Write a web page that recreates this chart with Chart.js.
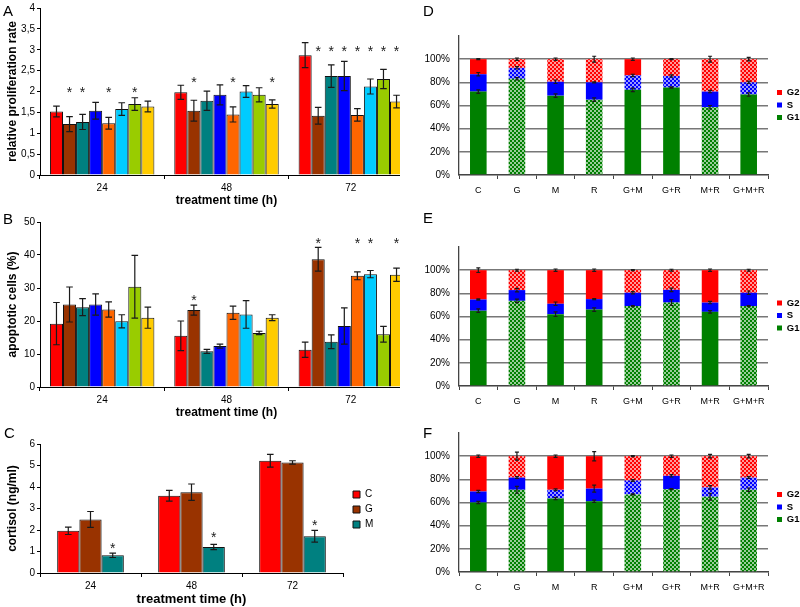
<!DOCTYPE html>
<html>
<head>
<meta charset="utf-8">
<script src="https://cdn.jsdelivr.net/npm/chart.js@4.4.0/dist/chart.umd.min.js"></script>
<style>
body { margin: 0; width: 800px; height: 607px; overflow: hidden; position: relative; background: #fff; font-family: "Liberation Sans", Arial, sans-serif; }
.panel { position: absolute; overflow: hidden; }
.letter { position: absolute; font-size: 15px; line-height: 15px; color: #000; }
</style>
</head>
<body>
<div class="panel" style="left:0;top:0;width:400px;height:210px"><canvas id="chartA" width="420" height="210" style="width:420px;height:210px"></canvas></div>
<div class="panel" style="left:0;top:210px;width:400px;height:210px"><canvas id="chartB" width="420" height="210" style="width:420px;height:210px"></canvas></div>
<div class="panel" style="left:0;top:420px;width:400px;height:187px"><canvas id="chartC" width="400" height="187" style="width:400px;height:187px"></canvas></div>
<div class="panel" style="left:400px;top:0;width:400px;height:200px"><canvas id="chartD" width="400" height="200" style="width:400px;height:200px"></canvas></div>
<div class="panel" style="left:400px;top:200px;width:400px;height:210px"><canvas id="chartE" width="400" height="210" style="width:400px;height:210px"></canvas></div>
<div class="panel" style="left:400px;top:410px;width:400px;height:197px"><canvas id="chartF" width="400" height="197" style="width:400px;height:197px"></canvas></div>
<div class="letter" style="left:3px;top:3px">A</div>
<div class="letter" style="left:3px;top:211px">B</div>
<div class="letter" style="left:4px;top:425px">C</div>
<div class="letter" style="left:423px;top:3px">D</div>
<div class="letter" style="left:423px;top:210px">E</div>
<div class="letter" style="left:423px;top:425px">F</div>

<script>
const times = ['24', '48', '72'];
const treatments = ['C', 'G', 'M', 'R', 'G+M', 'G+R', 'M+R', 'G+M+R'];
const treatColors = ['#ff0000', '#993300', '#008080', '#0000ff', '#ff6600', '#00ccff', '#99cc00', '#ffcc00'];

// A - relative proliferation rate, one row per treatment (24, 48, 72 h)
const prolif = [[1.52, 1.98, 2.87], [1.22, 1.54, 1.42], [1.27, 1.78, 2.37], [1.54, 1.92, 2.37],
                [1.24, 1.45, 1.44], [1.58, 2.00, 2.12], [1.70, 1.92, 2.30], [1.64, 1.70, 1.76]];
const prolifErr = [[0.13, 0.17, 0.30], [0.18, 0.25, 0.20], [0.18, 0.23, 0.27], [0.20, 0.24, 0.35],
                   [0.14, 0.18, 0.15], [0.15, 0.14, 0.18], [0.15, 0.17, 0.23], [0.13, 0.10, 0.15]];
const prolifStars = [[1, 2, 4, 6], [1, 4, 7], [1, 2, 3, 4, 5, 6, 7]]; // treatments marked * per time
const prolifStarAt = [2.06, 2.3, 3.05];

// B - apoptotic cells (%)
const apop = [[19.2, 15.5, 11.3], [25.0, 23.3, 38.7], [24.2, 10.8, 13.7], [25.0, 12.4, 18.5],
              [23.5, 22.5, 33.7], [19.9, 22.0, 34.2], [30.4, 16.4, 16.0], [21.0, 21.0, 34.0]];
const apopErr = [[6.4, 4.5, 2.3], [5.3, 1.5, 3.6], [2.6, 0.6, 2.1], [3.2, 0.6, 5.5],
                 [2.3, 2.0, 1.2], [2.0, 4.2, 1.1], [9.5, 0.5, 2.4], [3.2, 0.9, 2.0]];
const apopStars = [[], [1], [1, 4, 5, 7]];
const apopStarAt = [0, 27.4, 44.5];

// C - cortisol (ng/ml)
const cortGroups = ['C', 'G', 'M'];
const cortColors = ['#ff0000', '#993300', '#008080'];
const cortisol = [[1.96, 3.59, 5.22], [2.49, 3.76, 5.14], [0.82, 1.21, 1.71]];
const cortisolErr = [[0.17, 0.25, 0.30], [0.37, 0.38, 0.08], [0.10, 0.12, 0.27]];
const cortStars = [[2], [2], [2]];
const cortStarAt = [1.29, 1.8, 2.38];

// D, E, F - cell cycle phases (%), rows G1, S, G2; sig = dotted fill
const phases = ['G1', 'S', 'G2'];
const phaseColors = ['#008000', '#0000ff', '#ff0000'];
const pctTicks = [0, 20, 40, 60, 80, 100];

const cycleD = [[72, 83, 68.5, 65, 73.5, 75.5, 58.5, 69.5], [15, 9.5, 12, 15, 12.5, 10, 13.5, 10.5], [13, 7.5, 19.5, 20, 14, 14.5, 28, 20]];
const cycleDErr = [[1.5, 1, 1.5, 1.5, 1.5, 0.5, 1.5, 1.5], [1.5, 1, 1.5, 0.5, 1, 1, 1, 1], [0.5, 1, 1, 2.5, 1, 0.5, 2.5, 1.5]];
const cycleDSig = [[0, 1, 0, 1, 0, 0, 1, 0], [0, 1, 0, 0, 1, 1, 0, 1], [0, 1, 1, 1, 0, 1, 1, 1]];

const cycleE = [[65, 73.5, 62, 66, 69, 72, 64, 69], [9.7, 9.3, 9, 9, 11.5, 11, 8, 11.5], [25.3, 17.2, 29, 25, 19.5, 17, 28, 19.5]];
const cycleEErr = [[1.5, 1.5, 2, 1.5, 0.5, 2.5, 1, 0.5], [0.5, 1.5, 1.5, 0.5, 1, 1.5, 1, 1.5], [2, 0.8, 1, 1, 0.5, 0.8, 1, 0.8]];
const cycleESig = [[0, 1, 0, 0, 1, 1, 0, 1], [0, 0, 0, 0, 0, 0, 0, 0], [0, 1, 0, 0, 1, 1, 0, 1]];

const cycleF = [[60, 71, 63.5, 61, 67, 71.5, 65, 71], [9.5, 10.5, 7.5, 11, 12, 11.5, 8, 10.5], [30.5, 18.5, 29, 28, 21, 17, 27, 18.5]];
const cycleFErr = [[1, 3, 1, 1, 0.5, 0.5, 3, 1.5], [1, 0.8, 0.8, 3, 0.8, 1, 1.5, 0.8], [1, 3.5, 1, 4, 0.5, 1, 1.5, 1.5]];
const cycleFSig = [[0, 1, 0, 0, 1, 1, 1, 1], [0, 0, 1, 0, 1, 0, 1, 1], [0, 1, 0, 0, 1, 1, 1, 1]];

const FONT = '"Liberation Sans", Arial, sans-serif';

// small checker fill used for the significant segments
function dotted(color) {
    const c = document.createElement('canvas');
    c.width = 4; c.height = 4;
    const g = c.getContext('2d');
    g.fillStyle = color;
    g.fillRect(0, 0, 4, 4);
    g.fillStyle = 'rgba(255,255,255,0.6)';
    g.fillRect(0, 0, 2, 2);
    g.fillRect(2, 2, 2, 2);
    return g.createPattern(c, 'repeat');
}

// error bars + significance stars
function marks(cap, starRows, starAt) {
    return {
        id: 'marks',
        afterDatasetsDraw(chart) {
            const ctx = chart.ctx;
            const y = chart.scales.y;
            const px = v => Math.abs(y.getPixelForValue(0) - y.getPixelForValue(v));
            ctx.save();
            ctx.strokeStyle = '#1a1a1a';
            ctx.lineWidth = 1.2;
            chart.data.datasets.forEach((ds, k) => {
                chart.getDatasetMeta(k).data.forEach((bar, i) => {
                    const d = px(ds.errors[i]);
                    ctx.beginPath();
                    ctx.moveTo(bar.x, bar.y - d); ctx.lineTo(bar.x, bar.y + d);
                    ctx.moveTo(bar.x - cap, bar.y - d); ctx.lineTo(bar.x + cap, bar.y - d);
                    ctx.moveTo(bar.x - cap, bar.y + d); ctx.lineTo(bar.x + cap, bar.y + d);
                    ctx.stroke();
                });
            });
            if (starRows) {
                ctx.fillStyle = '#1a1a1a';
                ctx.font = '14px ' + FONT;
                ctx.textAlign = 'center';
                starRows.forEach((row, i) => row.forEach(k => {
                    const bar = chart.getDatasetMeta(k).data[i];
                    ctx.fillText('*', bar.x, y.getPixelForValue(starAt[i]) + 8);
                }));
            }
            ctx.restore();
        }
    };
}

// nudge the legend away from the plot without changing row spacing
function legendShift(dx, dy) {
    return {
        id: 'legendShift',
        afterLayout(chart) {
            const l = chart.legend;
            if (!l) return;
            l.left += dx; l.right += dx;
            l.top += dy; l.bottom += dy;
        }
    };
}

Chart.defaults.font.family = FONT;
Chart.defaults.color = '#000';

function groupedChart(id, o) {
    return new Chart(document.getElementById(id), {
        type: 'bar',
        data: {
            labels: times,
            datasets: o.names.map((n, k) => ({
                label: n,
                data: o.values[k],
                errors: o.errors[k],
                backgroundColor: o.colors[k],
                borderColor: '#111',
                borderWidth: 1,
                categoryPercentage: o.catPct,
                barPercentage: 1
            }))
        },
        options: {
            responsive: false,
            animation: false,
            layout: { padding: o.pad },
            plugins: {
                legend: o.legend || { display: false },
                tooltip: { enabled: false }
            },
            scales: {
                x: {
                    grid: { drawOnChartArea: false, offset: true, tickLength: 4, color: '#000' },
                    border: { color: '#000' },
                    ticks: { font: { size: 10 }, padding: 3 },
                    title: { display: true, text: 'treatment time (h)', font: { size: o.xTitleSize, weight: 'bold' }, padding: 0 },
                    afterFit: s => { s.height = o.xH; }
                },
                y: {
                    min: 0, max: o.max,
                    ticks: { stepSize: o.step, font: { size: 10 }, padding: 2, callback: v => String(v).replace('.', ',') },
                    grid: { drawOnChartArea: false, tickLength: 3, color: '#000' },
                    border: { color: '#000' },
                    title: { display: true, text: o.yTitle, font: { size: 12, weight: 'bold' }, padding: { top: 5, bottom: 0 } },
                    afterFit: s => { s.width = 40; }
                }
            }
        },
        plugins: [marks(o.cap, o.stars, o.starAt), legendShift(o.dx || 0, o.dy || 0)]
    });
}

function cycleChart(id, values, errors, sig, o) {
    return new Chart(document.getElementById(id), {
        type: 'bar',
        data: {
            labels: treatments,
            datasets: phases.map((p, k) => ({
                label: p,
                data: values[k],
                errors: errors[k],
                backgroundColor: sig[k].map(f => f ? dotted(phaseColors[k]) : phaseColors[k]),
                borderWidth: 0,
                categoryPercentage: 1,
                barPercentage: 0.43
            }))
        },
        options: {
            responsive: false,
            animation: false,
            layout: { padding: { top: o.top, right: 2, left: 0, bottom: 0 } },
            plugins: {
                legend: {
                    position: 'right',
                    reverse: true,
                    maxWidth: 30,
                    labels: { boxWidth: 5, boxHeight: 5, padding: 3, font: { size: 9.5, weight: 'bold' } }
                },
                tooltip: { enabled: false }
            },
            scales: {
                x: {
                    stacked: true,
                    grid: { drawOnChartArea: false, offset: true, tickLength: 4, color: '#444' },
                    border: { color: '#444', width: 1.3 },
                    ticks: { font: { size: 9 }, padding: 6 },
                    afterFit: s => { s.height = o.xH; }
                },
                y: {
                    stacked: true,
                    min: 0, max: 120,
                    afterBuildTicks: s => { s.ticks = pctTicks.concat([120]).map(v => ({ value: v })); },
                    ticks: { font: { size: 10 }, padding: 9, callback: v => v > 100 ? '' : v + '%' },
                    grid: {
                        drawTicks: false,
                        lineWidth: 1.4,
                        color: c => (c.tick && c.tick.value > 100) ? 'rgba(0,0,0,0)' : '#777'
                    },
                    border: { color: '#444', width: 1.3 },
                    afterFit: s => { s.width = 59; }
                }
            }
        },
        plugins: [marks(2, null, null), legendShift(6, -13)]
    });
}

groupedChart('chartA', {
    names: treatments, colors: treatColors, values: prolif, errors: prolifErr,
    stars: prolifStars, starAt: prolifStarAt,
    max: 4, step: 0.5, yTitle: 'relative proliferation rate',
    pad: { top: 8, right: 7, left: 0, bottom: 2 }, xH: 33, xTitleSize: 12,
    catPct: 0.84, cap: 3.3
});

groupedChart('chartB', {
    names: treatments, colors: treatColors, values: apop, errors: apopErr,
    stars: apopStars, starAt: apopStarAt,
    max: 50, step: 10, yTitle: 'apoptotic cells (%)',
    pad: { top: 12, right: 7, left: 0, bottom: 0 }, xH: 33, xTitleSize: 12,
    catPct: 0.84, cap: 3.3
});

groupedChart('chartC', {
    names: cortGroups, colors: cortColors, values: cortisol, errors: cortisolErr,
    stars: cortStars, starAt: cortStarAt,
    max: 6, step: 1, yTitle: 'cortisol (ng/ml)',
    pad: { top: 24, right: 27, left: 0, bottom: 0 }, xH: 34, xTitleSize: 13,
    catPct: 0.66, cap: 3.3, dx: 5, dy: -16,
    legend: {
        position: 'right',
        maxWidth: 30,
        labels: { boxWidth: 7, boxHeight: 7, padding: 5, font: { size: 10 } }
    }
});

cycleChart('chartD', cycleD, cycleDErr, cycleDSig, { top: 36, xH: 25 });
cycleChart('chartE', cycleE, cycleEErr, cycleESig, { top: 47, xH: 24 });
cycleChart('chartF', cycleF, cycleFErr, cycleFSig, { top: 23, xH: 35 });
</script>
</body>
</html>
